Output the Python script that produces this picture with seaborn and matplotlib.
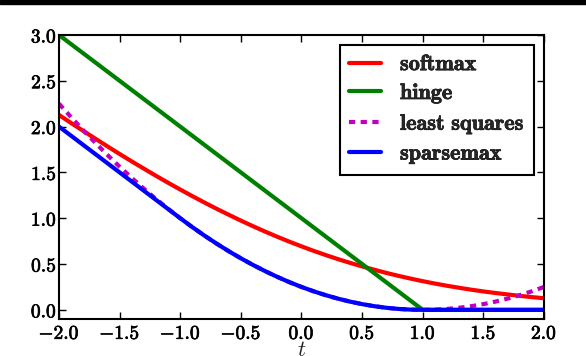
import numpy as np
import pandas as pd
import matplotlib
matplotlib.use("Agg")
import matplotlib.pyplot as plt
import matplotlib.patheffects as pe
from matplotlib.ticker import FuncFormatter, MultipleLocator
from matplotlib.patches import Rectangle
import seaborn as sns

t = [-2.0, -1.9, -1.8, -1.7, -1.6, -1.5, -1.4, -1.3, -1.2, -1.1,
     -1.0, -0.9, -0.8, -0.7, -0.6, -0.5, -0.4, -0.3, -0.2, -0.1,
     0.0, 0.1, 0.2, 0.3, 0.4, 0.5, 0.6, 0.7, 0.8, 0.9,
     1.0, 1.1, 1.2, 1.3, 1.4, 1.5, 1.6, 1.7, 1.8, 1.9, 2.0]

softmax = [2.127, 2.039, 1.953, 1.868, 1.784, 1.701, 1.620, 1.541, 1.463, 1.387,
           1.313, 1.241, 1.171, 1.103, 1.038, 0.974, 0.913, 0.854, 0.798, 0.744,
           0.693, 0.644, 0.598, 0.554, 0.513, 0.474, 0.438, 0.403, 0.371, 0.341,
           0.313, 0.287, 0.263, 0.241, 0.220, 0.201, 0.184, 0.168, 0.153, 0.139, 0.127]

hinge = [3.0, 2.9, 2.8, 2.7, 2.6, 2.5, 2.4, 2.3, 2.2, 2.1,
         2.0, 1.9, 1.8, 1.7, 1.6, 1.5, 1.4, 1.3, 1.2, 1.1,
         1.0, 0.9, 0.8, 0.7, 0.6, 0.5, 0.4, 0.3, 0.2, 0.1,
         0.0, 0.0, 0.0, 0.0, 0.0, 0.0, 0.0, 0.0, 0.0, 0.0, 0.0]

least_squares = [2.25, 2.1025, 1.96, 1.8225, 1.69, 1.5625, 1.44, 1.3225, 1.21, 1.1025,
                 1.0, 0.9025, 0.81, 0.7225, 0.64, 0.5625, 0.49, 0.4225, 0.36, 0.3025,
                 0.25, 0.2025, 0.16, 0.1225, 0.09, 0.0625, 0.04, 0.0225, 0.01, 0.0025,
                 0.0, 0.0025, 0.01, 0.0225, 0.04, 0.0625, 0.09, 0.1225, 0.16, 0.2025, 0.25]

sparsemax = [2.0, 1.9, 1.8, 1.7, 1.6, 1.5, 1.4, 1.3, 1.2, 1.1,
             1.0, 0.9025, 0.81, 0.7225, 0.64, 0.5625, 0.49, 0.4225, 0.36, 0.3025,
             0.25, 0.2025, 0.16, 0.1225, 0.09, 0.0625, 0.04, 0.0225, 0.01, 0.0025,
             0.0, 0.0, 0.0, 0.0, 0.0, 0.0, 0.0, 0.0, 0.0, 0.0, 0.0]

labels = ["softmax", "hinge", "least squares", "sparsemax"]
colors = ["#ff0000", "#008000", "#bf00bf", "#0000ff"]

sns.set_theme(style="white")
plt.rcParams["mathtext.fontset"] = "cm"

fig = plt.figure(figsize=(5.86, 3.56), dpi=100)
ax = fig.add_axes([0.1007, 0.1039, 0.8276, 0.7978])

series = [softmax, hinge, least_squares, sparsemax]
for lab, vals, col in zip(labels, series, colors):
    df = pd.DataFrame({"t": t, "loss": vals})
    sns.lineplot(data=df, x="t", y="loss", color=col, lw=3,
                 label=r"$\mathbf{" + lab.replace(" ", r"\ ") + "}$", ax=ax)
ax.lines[2].set_dashes((1.5, 1.3))

ax.set_xlim(-2.0, 2.0)
ax.set_ylim(-0.1, 3.0)
ax.xaxis.set_major_locator(MultipleLocator(0.5))
ax.yaxis.set_major_locator(MultipleLocator(0.5))
fmt = FuncFormatter(lambda v, p: r"$\mathbf{%.1f}$" % v)
ax.xaxis.set_major_formatter(fmt)
ax.yaxis.set_major_formatter(fmt)
ax.tick_params(direction="in", length=5, width=1, colors="black",
               top=True, right=True, bottom=True, left=True, labelsize=14)
ax.tick_params(axis="x", pad=3.5)
ax.tick_params(axis="y", pad=1.5)
for s in ax.spines.values():
    s.set_color("black")
    s.set_linewidth(1.5)
ax.set_xlabel(r"$t$", fontsize=16, labelpad=-2.2)
ax.set_ylabel("")

stroke = [pe.withStroke(linewidth=0.5, foreground="black")]
for lbl in ax.get_xticklabels() + ax.get_yticklabels():
    lbl.set_path_effects(stroke)

leg = ax.legend(loc="upper right", fontsize=16, frameon=True, fancybox=False,
                framealpha=1, edgecolor="black", borderaxespad=0.45,
                handlelength=1.45, handletextpad=0.85, labelspacing=0.35,
                borderpad=0.42)
leg.get_frame().set_linewidth(1.5)
for txt in leg.get_texts():
    txt.set_path_effects(stroke)

fig.patches.append(Rectangle((0, 0.988), 1, 0.012, transform=fig.transFigure,
                             color="black", zorder=10))

fig.savefig("out.png", dpi=100, facecolor="white")
